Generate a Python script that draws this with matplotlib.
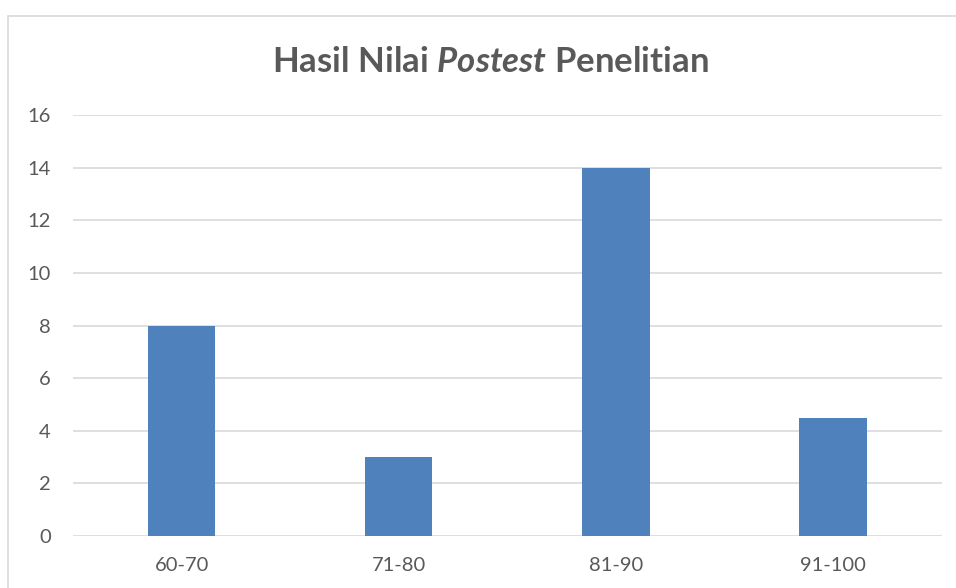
import matplotlib.pyplot as plt
import matplotlib.patches as patches
import numpy as np

plt.rcParams['font.family'] = ['Lato', 'DejaVu Sans']
plt.rcParams['mathtext.fontset'] = 'custom'
plt.rcParams['mathtext.it'] = 'Lato:italic:bold'
plt.rcParams['mathtext.rm'] = 'Lato:bold'

categories = ['60-70', '71-80', '81-90', '91-100']
values = [8, 3, 14, 4.5]
yticks = [0, 2, 4, 6, 8, 10, 12, 14, 16]

text_col = '#595959'
grid_col = '#D9D9D9'
bar_col = '#4F81BD'

fig = plt.figure(figsize=(9.56, 5.88), dpi=100)
ax = fig.add_axes([0.0764, 0.0884, 0.9086, 0.7156])

x = np.arange(len(categories))
ax.bar(x, values, width=0.31, color=bar_col, zorder=3)

ax.set_xlim(-0.5, len(categories) - 0.5)
ax.set_ylim(0, 16)
ax.set_yticks(yticks)
ax.set_xticks(x)
ax.set_xticklabels(categories)
ax.grid(axis='y', color=grid_col, linewidth=1.2, zorder=0)
ax.tick_params(axis='both', length=0, labelsize=14.5, colors=text_col)
ax.tick_params(axis='y', pad=16)
ax.tick_params(axis='x', pad=15)
for s in ax.spines.values():
    s.set_visible(False)

# outer chart border
fig.patches.append(patches.Rectangle((8 / 956, -0.05), 1.05, 1 - 16 / 588 + 0.05,
                                     transform=fig.transFigure, fill=False,
                                     edgecolor=grid_col, linewidth=1.2, clip_on=False))

fig.text(490 / 956, 1 - 72 / 588, r'Hasil Nilai $\mathit{Postest}$ Penelitian',
         ha='center', va='baseline', fontsize=25, fontweight='bold', color=text_col)

fig.savefig('out.png', dpi=100)
